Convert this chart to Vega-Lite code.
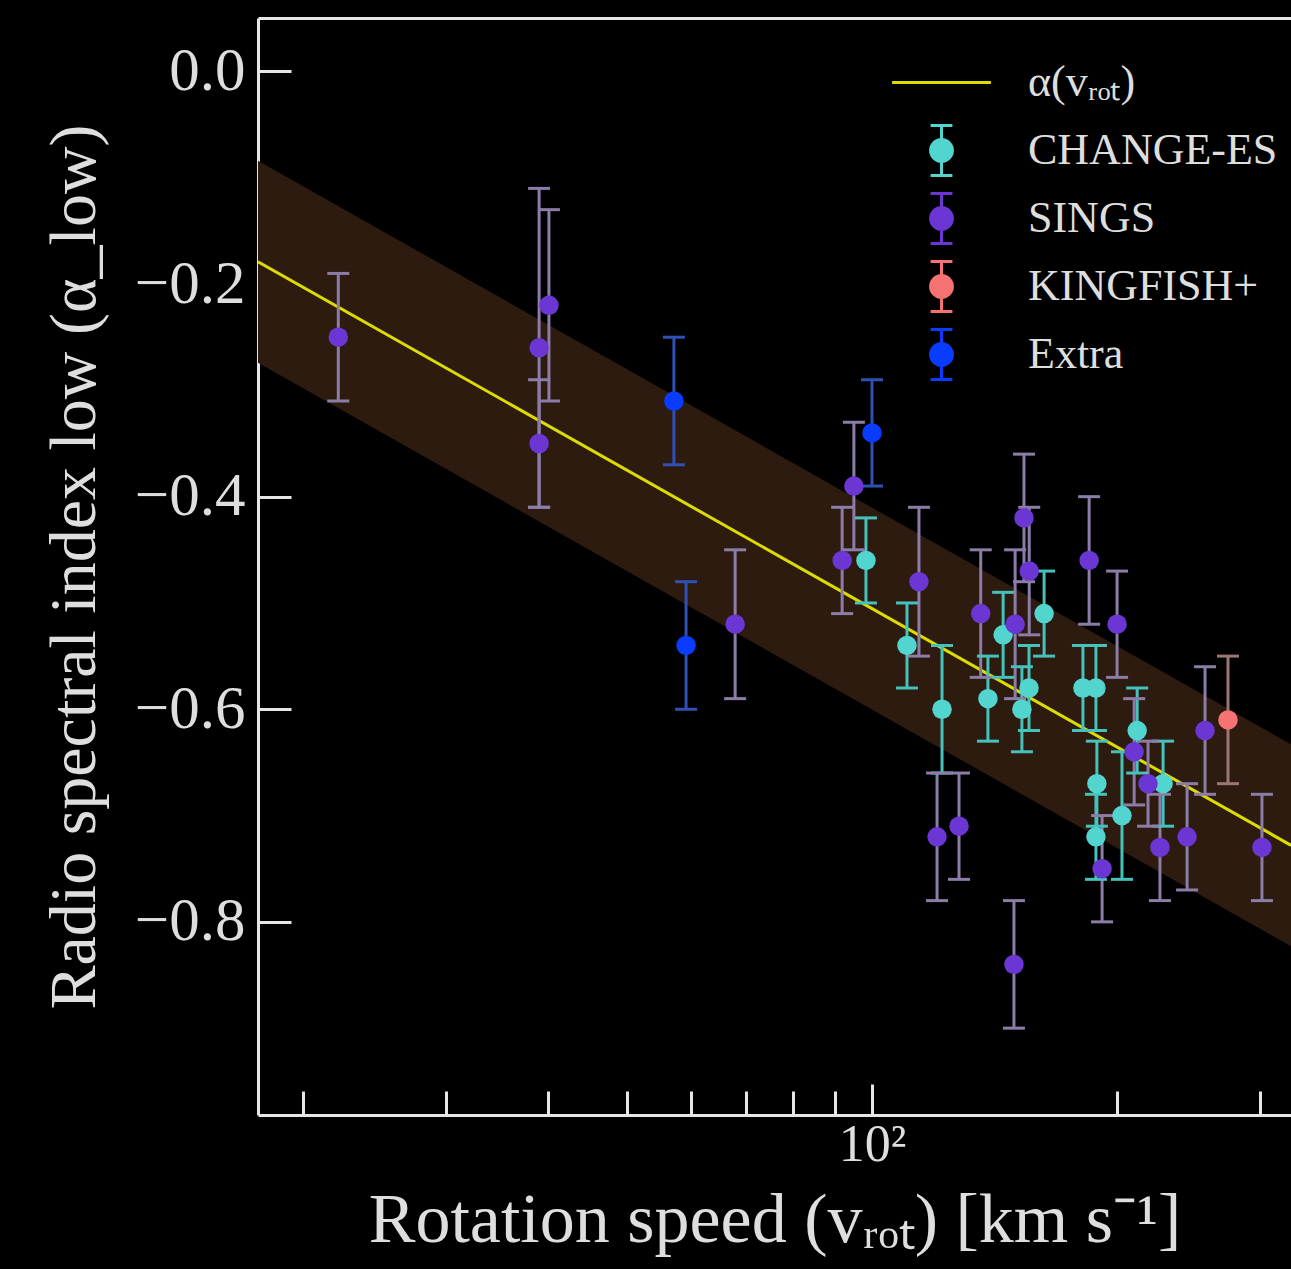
{
  "$schema": "https://vega.github.io/schema/vega-lite/v6.json",
  "autosize": {"type": "none"},
  "padding": {"left": 258, "top": 18, "right": 0, "bottom": 154},
  "width": 1033,
  "height": 1097,
  "background": "#000000",
  "config": {"view": {"stroke": null}},
  "datasets": {
    "fit": [
      {"s": "α(vᵣₒₜ)", "v": 17.61, "fit": -0.179, "lo": -0.274, "hi": -0.084},
      {"s": "α(vᵣₒₜ)", "v": 327.1, "fit": -0.728, "lo": -0.823, "hi": -0.633}
    ],
    "pts": [
      {"s": "CHANGE-ES", "v": 98.3, "a": -0.46, "lo": -0.50, "hi": -0.42},
      {"s": "CHANGE-ES", "v": 110.4, "a": -0.54, "lo": -0.58, "hi": -0.50},
      {"s": "CHANGE-ES", "v": 121.9, "a": -0.60, "lo": -0.66, "hi": -0.54},
      {"s": "CHANGE-ES", "v": 138.8, "a": -0.59, "lo": -0.63, "hi": -0.55},
      {"s": "CHANGE-ES", "v": 144.9, "a": -0.53, "lo": -0.57, "hi": -0.49},
      {"s": "CHANGE-ES", "v": 152.8, "a": -0.60, "lo": -0.64, "hi": -0.56},
      {"s": "CHANGE-ES", "v": 155.9, "a": -0.58, "lo": -0.62, "hi": -0.54},
      {"s": "CHANGE-ES", "v": 162.7, "a": -0.51, "lo": -0.55, "hi": -0.47},
      {"s": "CHANGE-ES", "v": 181.6, "a": -0.58, "lo": -0.62, "hi": -0.54},
      {"s": "CHANGE-ES", "v": 188.4, "a": -0.58, "lo": -0.62, "hi": -0.54},
      {"s": "CHANGE-ES", "v": 188.9, "a": -0.67, "lo": -0.71, "hi": -0.63},
      {"s": "CHANGE-ES", "v": 188.4, "a": -0.72, "lo": -0.76, "hi": -0.68},
      {"s": "CHANGE-ES", "v": 202.8, "a": -0.70, "lo": -0.76, "hi": -0.64},
      {"s": "CHANGE-ES", "v": 211.7, "a": -0.62, "lo": -0.66, "hi": -0.58},
      {"s": "CHANGE-ES", "v": 227.8, "a": -0.67, "lo": -0.71, "hi": -0.63},
      {"s": "SINGS", "v": 22.1, "a": -0.25, "lo": -0.31, "hi": -0.19},
      {"s": "SINGS", "v": 39.0, "a": -0.26, "lo": -0.41, "hi": -0.11},
      {"s": "SINGS", "v": 39.0, "a": -0.35, "lo": -0.41, "hi": -0.29},
      {"s": "SINGS", "v": 40.1, "a": -0.22, "lo": -0.31, "hi": -0.13},
      {"s": "SINGS", "v": 67.9, "a": -0.52, "lo": -0.59, "hi": -0.45},
      {"s": "SINGS", "v": 91.9, "a": -0.46, "lo": -0.51, "hi": -0.41},
      {"s": "SINGS", "v": 95.0, "a": -0.39, "lo": -0.45, "hi": -0.33},
      {"s": "SINGS", "v": 114.2, "a": -0.48, "lo": -0.55, "hi": -0.41},
      {"s": "SINGS", "v": 120.2, "a": -0.72, "lo": -0.78, "hi": -0.66},
      {"s": "SINGS", "v": 127.9, "a": -0.71, "lo": -0.76, "hi": -0.66},
      {"s": "SINGS", "v": 136.0, "a": -0.51, "lo": -0.57, "hi": -0.45},
      {"s": "SINGS", "v": 149.4, "a": -0.84, "lo": -0.90, "hi": -0.78},
      {"s": "SINGS", "v": 149.9, "a": -0.52, "lo": -0.59, "hi": -0.45},
      {"s": "SINGS", "v": 153.7, "a": -0.42, "lo": -0.48, "hi": -0.36},
      {"s": "SINGS", "v": 156.0, "a": -0.47, "lo": -0.53, "hi": -0.41},
      {"s": "SINGS", "v": 184.8, "a": -0.46, "lo": -0.52, "hi": -0.40},
      {"s": "SINGS", "v": 191.7, "a": -0.75, "lo": -0.80, "hi": -0.70},
      {"s": "SINGS", "v": 200.0, "a": -0.52, "lo": -0.57, "hi": -0.47},
      {"s": "SINGS", "v": 209.9, "a": -0.64, "lo": -0.69, "hi": -0.59},
      {"s": "SINGS", "v": 218.3, "a": -0.67, "lo": -0.71, "hi": -0.63},
      {"s": "SINGS", "v": 225.8, "a": -0.73, "lo": -0.78, "hi": -0.68},
      {"s": "SINGS", "v": 243.8, "a": -0.72, "lo": -0.77, "hi": -0.67},
      {"s": "SINGS", "v": 256.5, "a": -0.62, "lo": -0.68, "hi": -0.56},
      {"s": "SINGS", "v": 301.3, "a": -0.73, "lo": -0.78, "hi": -0.68},
      {"s": "KINGFISH+", "v": 273.7, "a": -0.61, "lo": -0.67, "hi": -0.55},
      {"s": "Extra", "v": 57.1, "a": -0.31, "lo": -0.37, "hi": -0.25},
      {"s": "Extra", "v": 59.1, "a": -0.54, "lo": -0.60, "hi": -0.48},
      {"s": "Extra", "v": 100.0, "a": -0.34, "lo": -0.39, "hi": -0.29}
    ]
  },
  "layer": [
    {
      "data": {"name": "fit"},
      "mark": {"type": "area", "color": "#2e1b10", "clip": true},
      "encoding": {
        "x": {
          "field": "v", "type": "quantitative",
          "scale": {"type": "log", "domain": [17.61, 327.1], "nice": false},
          "axis": {
            "orient": "bottom",
            "values": [20, 30, 40, 50, 60, 70, 80, 90, 100, 200, 300],
            "labelExpr": "datum.value == 100 ? '10²' : ''",
            "tickSize": {"condition": {"test": "datum.value == 100", "value": -31}, "value": -24},
            "tickWidth": 3, "tickColor": "#e6e6e6",
            "domainColor": "#e6e6e6", "domainWidth": 3, "grid": false,
            "labelPadding": 35, "labelFont": "Liberation Serif", "labelFontSize": 52,
            "labelColor": "#dedede", "labelOverlap": false, "labelFlush": false, "labelBound": false,
            "title": "Rotation speed (vᵣₒₜ) [km s⁻¹]",
            "titleFont": "Liberation Serif", "titleFontSize": 70, "titleFontWeight": "normal",
            "titleColor": "#dedede", "titlePadding": 9
          }
        },
        "y": {
          "field": "lo", "type": "quantitative",
          "scale": {"domain": [-0.9817, 0.0503], "nice": false, "zero": false},
          "axis": {
            "orient": "left",
            "values": [-0.8, -0.6, -0.4, -0.2, 0],
            "format": ".1f",
            "tickSize": -33, "tickWidth": 3, "tickColor": "#e6e6e6",
            "domainColor": "#e6e6e6", "domainWidth": 3, "grid": false,
            "labelPadding": 46, "labelFont": "Liberation Serif", "labelFontSize": 61,
            "labelColor": "#dedede", "labelOverlap": false,
            "title": "Radio spectral index low (α_low)",
            "titleFont": "Liberation Serif", "titleFontSize": 66, "titleFontWeight": "normal",
            "titleColor": "#dedede", "titlePadding": 26
          }
        },
        "y2": {"field": "hi"}
      }
    },
    {
      "data": {"name": "fit"},
      "mark": {"type": "line", "strokeWidth": 3, "clip": true},
      "encoding": {
        "x": {
          "field": "v", "type": "quantitative",
          "axis": {"orient": "top", "ticks": false, "labels": false, "title": null, "grid": false,
                   "domainColor": "#e6e6e6", "domainWidth": 3}
        },
        "y": {"field": "fit", "type": "quantitative"},
        "color": {
          "field": "s", "type": "nominal",
          "scale": {"domain": ["α(vᵣₒₜ)", "CHANGE-ES", "SINGS", "KINGFISH+", "Extra"],
                    "range": ["#dcdc00", "#52d5cf", "#6b36d3", "#f77272", "#0a3cff"]},
          "legend": {
            "orient": "none", "legendX": 656, "legendY": 37, "title": null,
            "padding": 0, "rowPadding": 5, "gridAlign": "all", "symbolSize": 2704, "labelOffset": 59,
            "labelFont": "Liberation Serif", "labelFontSize": 44, "labelColor": "#dedede",
            "labelLimit": 500,
            "encode": {
              "symbols": {
                "update": {
                  "shape": {"signal": "datum.index === 0 ? 'M-1.9,0H1.9' : 'M0,-0.96V0.96M-0.42,-0.96H0.42M-0.42,0.96H0.42M0.42,0A0.42,0.42,0,1,1,-0.42,0A0.42,0.42,0,1,1,0.42,0Z'"},
                  "fill": {"signal": "['transparent','#52d5cf','#6b36d3','#f77272','#0a3cff'][datum.index]"},
                  "stroke": {"signal": "['#dcdc00','#45c2bc','#8c7ca8','#9a7674','#2f50b4'][datum.index]"},
                  "strokeWidth": {"value": 3},
                  "size": {"value": 2704},
                  "opacity": {"value": 1}
                }
              }
            }
          }
        }
      }
    },
    {
      "data": {"name": "pts"},
      "mark": {"type": "rule", "strokeWidth": 3},
      "encoding": {
        "x": {"field": "v", "type": "quantitative", "axis": null},
        "y": {"field": "lo", "type": "quantitative"},
        "y2": {"field": "hi"},
        "stroke": {
          "field": "s", "type": "nominal", "legend": null,
          "scale": {"domain": ["CHANGE-ES", "SINGS", "KINGFISH+", "Extra"],
                    "range": ["#45c2bc", "#8c7ca8", "#9a7674", "#2f50b4"]}
        }
      }
    },
    {
      "data": {"name": "pts"},
      "mark": {"type": "tick", "orient": "horizontal", "size": 22, "thickness": 3, "opacity": 1},
      "encoding": {
        "x": {"field": "v", "type": "quantitative", "axis": null},
        "y": {"field": "lo", "type": "quantitative"},
        "fill": {
          "field": "s", "type": "nominal", "legend": null,
          "scale": {"domain": ["CHANGE-ES", "SINGS", "KINGFISH+", "Extra"],
                    "range": ["#45c2bc", "#8c7ca8", "#9a7674", "#2f50b4"]}
        }
      }
    },
    {
      "data": {"name": "pts"},
      "mark": {"type": "tick", "orient": "horizontal", "size": 22, "thickness": 3, "opacity": 1},
      "encoding": {
        "x": {"field": "v", "type": "quantitative", "axis": null},
        "y": {"field": "hi", "type": "quantitative"},
        "fill": {"field": "s", "type": "nominal", "legend": null}
      }
    },
    {
      "data": {"name": "pts"},
      "mark": {"type": "circle", "size": 380, "opacity": 1},
      "encoding": {
        "x": {"field": "v", "type": "quantitative", "axis": null},
        "y": {"field": "a", "type": "quantitative"},
        "color": {
          "field": "s", "type": "nominal",
          "legend": {
            "orient": "none", "legendX": 656, "legendY": 37, "title": null,
            "padding": 0, "rowPadding": 5, "gridAlign": "all", "symbolSize": 2704, "labelOffset": 59,
            "labelFont": "Liberation Serif", "labelFontSize": 44, "labelColor": "#dedede",
            "labelLimit": 500,
            "encode": {
              "symbols": {
                "update": {
                  "shape": {"signal": "datum.index === 0 ? 'M-1.9,0H1.9' : 'M0,-0.96V0.96M-0.42,-0.96H0.42M-0.42,0.96H0.42M0.42,0A0.42,0.42,0,1,1,-0.42,0A0.42,0.42,0,1,1,0.42,0Z'"},
                  "fill": {"signal": "['transparent','#52d5cf','#6b36d3','#f77272','#0a3cff'][datum.index]"},
                  "stroke": {"signal": "['#dcdc00','#45c2bc','#8c7ca8','#9a7674','#2f50b4'][datum.index]"},
                  "strokeWidth": {"value": 3},
                  "size": {"value": 2704},
                  "opacity": {"value": 1}
                }
              }
            }
          }
        }
      }
    }
  ],
  "resolve": {"axis": {"x": "independent"}}
}
